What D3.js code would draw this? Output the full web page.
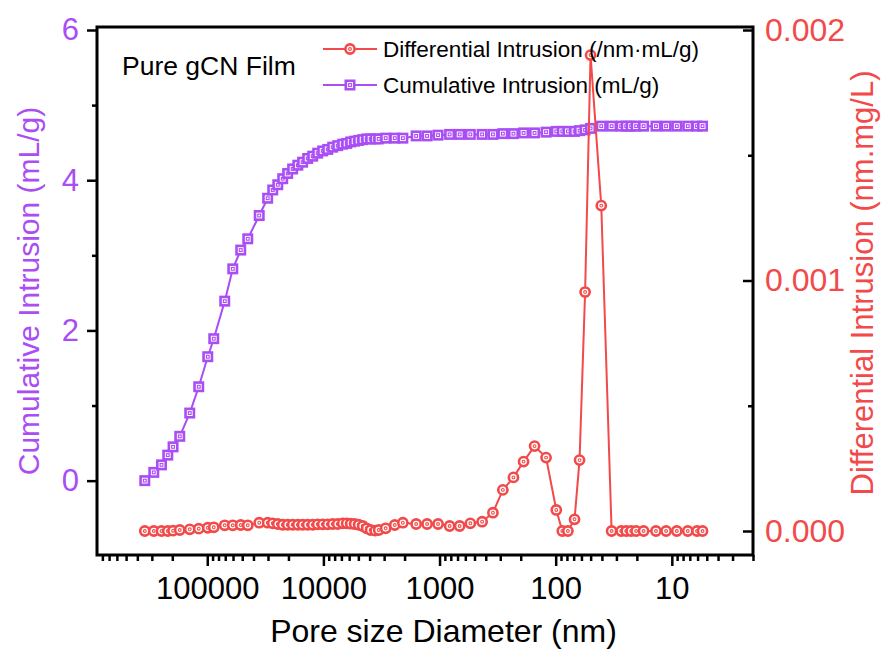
<!DOCTYPE html>
<html>
<head>
<meta charset="utf-8">
<script src="https://cdn.jsdelivr.net/npm/d3@7"></script>
<style>
  html, body { margin: 0; padding: 0; background: #fff; }
  svg { display: block; font-family: "Liberation Sans", Arial, sans-serif; }
</style>
</head>
<body>
<svg id="chart" width="883" height="650"></svg>
<script>
// Mercury intrusion porosimetry, pure gCN film
// Pore diameters (nm), shared by both series
const diameters = [
  345100, 288700, 247800, 218800, 197000, 172500, 141500, 118400, 99000, 87900,
  70700, 60300, 51500, 44800, 35700, 30200, 27300, 24700, 22400, 20300,
  18400, 16600, 15100, 13650, 12360, 11200, 10140, 9180, 8320, 7530,
  6820, 6300, 5820, 5380, 4970, 4590, 4240, 3920, 3580, 3340,
  2910, 2430, 2070, 1590, 1280, 1030, 819, 671, 543, 430,
  347, 285, 231, 189, 152, 121, 98.8, 87.7, 78.5, 68.8,
  62.3, 55.8, 50.1, 40.5, 33.0, 27.3, 24.7, 22.4, 20.3, 17.5,
  13.7, 11.2, 9.06, 7.29, 6.07, 5.44
];

// Cumulative intrusion (mL/g)
const cumulative = [
  0.00, 0.11, 0.21, 0.34, 0.45, 0.59, 0.90, 1.25, 1.65, 1.89,
  2.39, 2.82, 3.07, 3.22, 3.53, 3.76, 3.87, 3.94, 4.02, 4.09,
  4.15, 4.20, 4.24, 4.29, 4.32, 4.36, 4.39, 4.41, 4.44, 4.46,
  4.48, 4.49, 4.51, 4.52, 4.53, 4.54, 4.55, 4.55, 4.55, 4.55,
  4.56, 4.56, 4.56, 4.59, 4.59, 4.60, 4.61, 4.61, 4.61, 4.61,
  4.61, 4.62, 4.62, 4.63, 4.63, 4.64, 4.65, 4.65, 4.65, 4.65,
  4.66, 4.67, 4.69, 4.72, 4.72, 4.72, 4.72, 4.72, 4.72, 4.72,
  4.72, 4.72, 4.72, 4.72, 4.72, 4.72
];

// Differential intrusion (/nm·mL/g)
const differential = [
  0, 0, 0, 0, 0.12e-5, 0.40e-5, 0.68e-5, 0.92e-5, 1.30e-5, 1.48e-5,
  2.28e-5, 2.28e-5, 2.40e-5, 2.28e-5, 3.31e-5, 3.31e-5, 3.07e-5, 2.79e-5, 2.50e-5, 2.50e-5,
  2.50e-5, 2.50e-5, 2.50e-5, 2.50e-5, 2.50e-5, 2.67e-5, 2.67e-5, 2.67e-5, 2.79e-5, 2.79e-5,
  3.07e-5, 3.07e-5, 2.91e-5, 2.79e-5, 2.50e-5, 2.00e-5, 1.08e-5, 0.40e-5, 0.12e-5, 0.40e-5,
  1.08e-5, 2.40e-5, 3.31e-5, 2.79e-5, 2.79e-5, 2.79e-5, 2.00e-5, 2.00e-5, 3.07e-5, 3.71e-5,
  7.30e-5, 16.4e-5, 21.4e-5, 27.7e-5, 33.9e-5, 29.3e-5, 8.40e-5, 0, 0, 4.67e-5,
  28.3e-5, 95.4e-5, 190.0e-5, 129.9e-5, 0, 0, 0, 0, 0, 0,
  0, 0, 0, 0, 0, 0
];

// Axis ticks
const xMajorTicks = [100000, 10000, 1000, 100, 10];
const leftTicks = [0, 2, 4, 6];
const leftMinorTicks = [1, 3, 5];
const rightTicks = [0, 0.001, 0.002];
const rightMinorTicks = [0.0005, 0.0015];

const sampleLabel = "Pure gCN Film";
const diffName = "Differential Intrusion (/nm\u00B7mL/g)";
const cumName = "Cumulative Intrusion (mL/g)";
const xTitle = "Pore size Diameter (nm)";
const leftTitle = "Cumulative Intrusion (mL/g)";
const rightTitle = "Differential Intrusion (nm.mg/L)";

const PURPLE = "#a94df5";
const RED = "#f24a4a";

const margin = { top: 27, right: 130, bottom: 95, left: 97 };
const W = 883 - margin.left - margin.right;
const H = 650 - margin.top - margin.bottom;

const svg = d3.select("#chart");
const g = svg.append("g").attr("transform", `translate(${margin.left},${margin.top})`);

const x = d3.scaleLog().domain([890000, 2]).range([0, W]);
const yL = d3.scaleLinear().domain([-0.99, 6.04]).range([H, 0]);
const yR = d3.scaleLinear().domain([-0.0000958, 0.002012]).range([H, 0]);

const cumData = diameters.map((d, i) => ({ d, v: cumulative[i] }));
const diffData = diameters.map((d, i) => ({ d, v: differential[i] }));

function styleAxis(sel, color, size) {
  sel.select(".domain").remove();
  sel.selectAll(".tick line").attr("stroke", "#000").attr("stroke-width", 2.5);
  sel.selectAll(".tick text")
    .attr("fill", color)
    .style("font-size", size + "px")
    .style("font-family", '"Liberation Sans", Arial, sans-serif');
}

// Bottom axis (log, decreasing diameter)
const xMinorTicks = x.ticks().filter(v => {
  const l = Math.log10(v);
  return Math.abs(l - Math.round(l)) > 1e-9;
});
g.append("g").attr("transform", `translate(0,${H})`)
  .call(d3.axisBottom(x).tickValues(xMinorTicks).tickSize(6).tickFormat(""))
  .call(s => styleAxis(s, "#000", 31));
g.append("g").attr("transform", `translate(0,${H})`)
  .call(d3.axisBottom(x).tickValues(xMajorTicks).tickFormat(d3.format("d")).tickSize(11).tickPadding(11))
  .call(s => styleAxis(s, "#000", 31));

// Left axis (cumulative)
g.append("g")
  .call(d3.axisLeft(yL).tickValues(leftMinorTicks).tickSize(5).tickFormat(""))
  .call(s => styleAxis(s, PURPLE, 31));
g.append("g")
  .call(d3.axisLeft(yL).tickValues(leftTicks).tickFormat(d3.format("d")).tickSize(10).tickPadding(8))
  .call(s => styleAxis(s, PURPLE, 31));

// Right axis (differential), ticks pointing inward
g.append("g").attr("transform", `translate(${W},0)`)
  .call(d3.axisRight(yR).tickValues(rightMinorTicks).tickSizeInner(-5).tickFormat(""))
  .call(s => styleAxis(s, RED, 32));
g.append("g").attr("transform", `translate(${W},0)`)
  .call(d3.axisRight(yR).tickValues(rightTicks).tickFormat(d3.format(".3f")).tickSizeInner(-10).tickPadding(12))
  .call(s => styleAxis(s, RED, 32));

// Plot frame
g.append("rect")
  .attr("width", W).attr("height", H)
  .attr("fill", "none").attr("stroke", "#000").attr("stroke-width", 3);

// Marker helpers
function squareMarker(sel, color) {
  sel.append("rect")
    .attr("x", -4.2).attr("y", -4.2).attr("width", 8.4).attr("height", 8.4)
    .attr("fill", "#fff").attr("stroke", color).attr("stroke-width", 2.6);
  sel.append("rect")
    .attr("x", -1.4).attr("y", -1.4).attr("width", 2.8).attr("height", 2.8)
    .attr("fill", "#fff").attr("stroke", color).attr("stroke-width", 1.1);
}
function circleMarker(sel, color) {
  sel.append("circle").attr("r", 4.6)
    .attr("fill", "#fff").attr("stroke", color).attr("stroke-width", 2.6);
  sel.append("circle").attr("r", 1.4)
    .attr("fill", "#fff").attr("stroke", color).attr("stroke-width", 1.1);
}

// Cumulative series
const cumLine = d3.line().x(d => x(d.d)).y(d => yL(d.v));
g.append("path").datum(cumData)
  .attr("d", cumLine).attr("fill", "none")
  .attr("stroke", PURPLE).attr("stroke-width", 2);
g.append("g").selectAll("g").data(cumData).join("g")
  .attr("transform", d => `translate(${x(d.d)},${yL(d.v)})`)
  .each(function () { squareMarker(d3.select(this), PURPLE); });

// Differential series
const diffLine = d3.line().x(d => x(d.d)).y(d => yR(d.v));
g.append("path").datum(diffData)
  .attr("d", diffLine).attr("fill", "none")
  .attr("stroke", RED).attr("stroke-width", 2);
g.append("g").selectAll("g").data(diffData).join("g")
  .attr("transform", d => `translate(${x(d.d)},${yR(d.v)})`)
  .each(function () { circleMarker(d3.select(this), RED); });

// Sample label
svg.append("text")
  .attr("x", 122).attr("y", 75)
  .style("font-size", "26.5px").attr("fill", "#000")
  .text(sampleLabel);

// Legend
const legendRows = [
  { name: diffName, color: RED, y: 49, marker: circleMarker },
  { name: cumName, color: PURPLE, y: 85, marker: squareMarker }
];
const legend = svg.append("g");
legendRows.forEach(r => {
  legend.append("line")
    .attr("x1", 323).attr("x2", 377).attr("y1", r.y).attr("y2", r.y)
    .attr("stroke", r.color).attr("stroke-width", 2);
  const m = legend.append("g").attr("transform", `translate(350,${r.y})`);
  r.marker(m, r.color);
  legend.append("text")
    .attr("x", 383).attr("y", r.y + 8)
    .style("font-size", "22.5px").attr("fill", "#000")
    .text(r.name);
});

// Axis titles
svg.append("text")
  .attr("x", 443.5).attr("y", 642)
  .attr("text-anchor", "middle")
  .style("font-size", "32px").attr("fill", "#000")
  .text(xTitle);

svg.append("text")
  .attr("transform", `translate(39,${margin.top + H / 2}) rotate(-90)`)
  .attr("text-anchor", "middle")
  .style("font-size", "30px").attr("fill", PURPLE)
  .text(leftTitle);

svg.append("text")
  .attr("transform", `translate(873,283) rotate(-90)`)
  .attr("text-anchor", "middle")
  .style("font-size", "31px").attr("fill", RED)
  .text(rightTitle);
</script>
</body>
</html>
